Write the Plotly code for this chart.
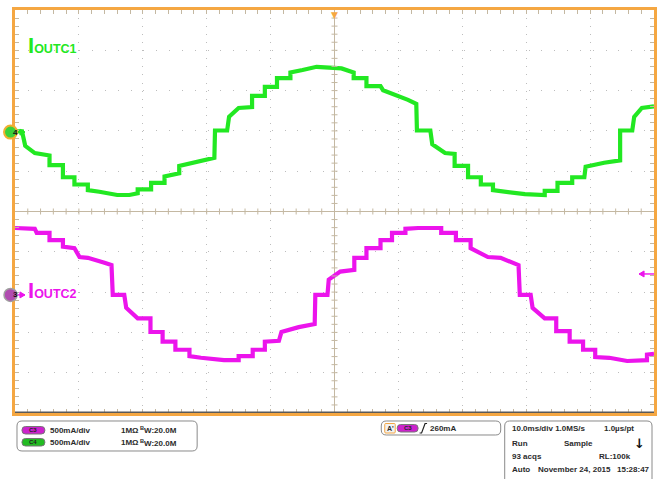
import plotly.graph_objects as go

# ---------------- data (read from the screen) ----------------
# time in ms (10 ms/div, trigger at centre), current in A (500 mA/div)
green_t = [-50.0, -48.9, -48.4, -46.9, -44.6, -44.6, -42.5, -42.5, -40.7, -40.7, -38.6, -38.6, -36.8,
           -34.0, -32.1, -30.8, -30.8, -28.7, -28.7, -26.6, -26.6, -24.3, -24.3, -21.2, -18.8, -18.7,
           -16.8, -16.5, -15.0, -12.9, -12.9, -10.9, -10.9, -9.0, -9.0, -6.9, -6.9, -5.0, -2.8, 1.1,
           3.0, 3.0, 5.0, 5.0, 7.2, 7.6, 9.7, 11.5, 12.8, 12.9, 15.0, 15.3, 17.3, 18.8, 18.8, 20.9,
           20.9, 22.9, 22.9, 24.8, 24.8, 26.8, 29.8, 32.9, 32.9, 34.9, 34.9, 37.2, 37.2, 39.1, 39.3,
           42.2, 44.7, 44.7, 46.6, 46.9, 48.1, 50.0]
green_i = [0.01, 0.01, -0.17, -0.26, -0.29, -0.41, -0.41, -0.56, -0.56, -0.65, -0.65, -0.72, -0.74,
           -0.78, -0.78, -0.76, -0.71, -0.71, -0.63, -0.63, -0.55, -0.51, -0.42, -0.37, -0.32, 0.02,
           0.02, 0.19, 0.30, 0.31, 0.45, 0.45, 0.56, 0.56, 0.67, 0.67, 0.74, 0.77, 0.81, 0.79,
           0.74, 0.67, 0.67, 0.57, 0.57, 0.52, 0.46, 0.40, 0.35, 0.02, 0.02, -0.15, -0.26, -0.27, -0.42, -0.42,
           -0.56, -0.56, -0.65, -0.65, -0.72, -0.74, -0.77, -0.78, -0.73, -0.73, -0.63, -0.63, -0.56, -0.56, -0.43,
           -0.38, -0.35, 0.02, 0.02, 0.19, 0.30, 0.32]

mag_t = [-50.0, -46.9, -46.6, -44.6, -44.6, -42.5, -42.5, -40.7, -39.9, -38.6, -36.0, -34.9, -34.7,
         -32.9, -32.6, -30.8, -28.8, -28.8, -26.9, -26.9, -24.9, -24.9, -22.7, -22.7, -20.9, -17.3,
         -15.0, -15.0, -12.8, -12.8, -10.9, -10.9, -8.7, -8.3, -5.6, -3.1, -3.0, -1.1, -0.9, 0.9,
         3.1, 3.1, 5.0, 5.0, 7.2, 7.2, 9.0, 9.0, 11.1, 11.1, 13.1, 16.7, 16.7, 19.0, 19.0, 21.3,
         21.3, 24.0, 26.0, 28.2, 28.8, 29.0, 30.7, 31.0, 32.9, 34.7, 34.7, 36.8, 36.8, 38.9, 38.9,
         40.8, 40.8, 43.0, 45.8, 48.9, 48.9, 50.0]
mag_i = [0.83, 0.82, 0.77, 0.77, 0.68, 0.68, 0.60, 0.58, 0.47, 0.46, 0.40, 0.37, 0.00,
         0.00, -0.16, -0.29, -0.29, -0.46, -0.46, -0.58, -0.58, -0.68, -0.68, -0.76, -0.78, -0.81,
         -0.81, -0.76, -0.76, -0.68, -0.68, -0.58, -0.57, -0.46, -0.40, -0.36, 0.00, 0.00, 0.19, 0.29,
         0.31, 0.46, 0.46, 0.58, 0.58, 0.68, 0.68, 0.77, 0.77, 0.82, 0.83, 0.83, 0.77, 0.77, 0.68, 0.68,
         0.58, 0.47, 0.46, 0.38, 0.37, 0.00, 0.00, -0.16, -0.29, -0.29, -0.45, -0.45, -0.58, -0.58, -0.68,
         -0.68, -0.77, -0.78, -0.82, -0.81, -0.74, -0.73]

trigger_level = 0.26      # A, on C3
green_offset_div = 6.97   # ground position of C4, divisions from bottom
mag_offset_div = 2.93     # ground position of C3, divisions from bottom
amps_per_div = 0.5

# ---------------- style ----------------
GREEN = "rgb(34,232,34)"
MAG = "rgb(236,20,236)"
ORANGE = "#f5a742"
TICK = "#c4b8a2"
GRID = "#bdbdbd"
TXT = "#2b2b2b"
FONT = "Liberation Sans"

W, H = 663, 479
L, T, PW, PH = 15, 10, 642, 403


def PX(x):
    return (x - L) / PW


def PY(y):
    return (T + PH - y) / PH


fig = go.Figure()
fig.add_trace(go.Scatter(x=green_t, y=green_i, mode="lines", yaxis="y2",
                         line=dict(color=GREEN, width=4.2), hoverinfo="skip"))
fig.add_trace(go.Scatter(x=mag_t, y=mag_i, mode="lines", yaxis="y3",
                         line=dict(color=MAG, width=4.2), hoverinfo="skip"))


def rng(off):
    return [-off * amps_per_div, (10 - off) * amps_per_div]


shapes = []
annotations = []

# centre crosshair ticks
for k in range(-24, 25):
    if k == 0:
        continue
    shapes.append(dict(type="line", xref="x", yref="y", x0=k * 2, x1=k * 2, ysizemode="pixel",
                       yanchor=0, y0=-3, y1=3, line=dict(color=TICK, width=1)))
for k in range(-24, 25):
    if k == 0:
        continue
    shapes.append(dict(type="line", xref="x", yref="y", y0=k * 0.2, y1=k * 0.2, xsizemode="pixel",
                       xanchor=0, x0=-3, x1=3, line=dict(color=TICK, width=1)))

# dark bottom line
shapes.append(dict(type="line", xref="paper", yref="paper", x0=0, x1=1, y0=0.002, y1=0.002,
                   line=dict(color="#5a5a5a", width=1.5)))


def rrect(x0, y0, x1, y1, r):
    pts = [("M", x0 + r, y0), ("L", x1 - r, y0), ("Q", x1, y0, x1, y0 + r), ("L", x1, y1 - r),
           ("Q", x1, y1, x1 - r, y1), ("L", x0 + r, y1), ("Q", x0, y1, x0, y1 - r), ("L", x0, y0 + r),
           ("Q", x0, y0, x0 + r, y0)]
    s = ""
    for p in pts:
        cmd = p[0]
        coords = p[1:]
        parts = []
        for i in range(0, len(coords), 2):
            parts.append(f"{PX(coords[i]):.5f},{PY(coords[i + 1]):.5f}")
        s += cmd + " " + " ".join(parts) + " "
    return s + "Z"


def box(x0, y0, x1, y1, r, line="#8a8a8a", fill="rgba(0,0,0,0)", lw=1):
    shapes.append(dict(type="path", xref="paper", yref="paper", path=rrect(x0, y0, x1, y1, r),
                       line=dict(color=line, width=lw), fillcolor=fill))


def text(x, y, s, size=8, color=TXT, bold=True, anchor="left", family=FONT):
    annotations.append(dict(x=PX(x), y=PY(y), xref="paper", yref="paper", text=(f"<b>{s}</b>" if bold else s),
                            showarrow=False, xanchor=anchor, yanchor="middle",
                            font=dict(family=family, size=size, color=color)))


def arrow(xpx_tail, xpx_tip, yref, yval, color):
    # horizontal arrow drawn in pixels around an axis value
    shapes.append(dict(type="line", xref="paper", yref=yref, x0=PX(xpx_tail), x1=PX(xpx_tip),
                       ysizemode="pixel", yanchor=yval, y0=0, y1=0, line=dict(color=color, width=1.4)))
    d = 1 if xpx_tip > xpx_tail else -1
    shapes.append(dict(type="path", xref="paper", yref=yref, xsizemode="pixel", ysizemode="pixel",
                       xanchor=PX(xpx_tip), yanchor=yval,
                       path=f"M {-5 * d},-3 L 0,0 L {-5 * d},3 Z",
                       line=dict(color=color, width=1), fillcolor=color))


# info boxes
box(17, 421, 198, 451, 5)
box(383, 421, 503, 435, 5)
box(507, 421, 655, 484, 5)

# channel pills
box(22, 426.5, 45, 434, 3.5, line="#777777", fill="#cc22cc")
text(33.5, 430.3, "C3", size=6, color="#222222", anchor="center")
box(22, 438.5, 45, 446, 3.5, line="#777777", fill="#22bb22")
text(33.5, 442.3, "C4", size=6, color="#222222", anchor="center")
text(48, 430.5, "500mA/div")
text(48, 442.5, "500mA/div")
text(119, 430.5, "1MΩ")
text(139, 430.5, "<sup>B</sup>W:20.0M")
text(119, 442.5, "1MΩ")
text(139, 442.5, "<sup>B</sup>W:20.0M")

# trigger box
box(386.5, 423.5, 397, 433, 1, line=ORANGE, fill="#f2f2f2")
text(391.8, 428.3, "A'", size=7, anchor="center")
box(399, 424.5, 420, 432, 3.5, line="#777777", fill="#cc22cc")
text(409.5, 428.3, "C3", size=6, color="#222222", anchor="center")
shapes.append(dict(type="path", xref="paper", yref="paper",
                   path=f"M {PX(421.5)},{PY(433)} L {PX(423.5)},{PY(433)} L {PX(427)},{PY(423.5)} L {PX(429)},{PY(423.5)}",
                   line=dict(color="#222222", width=1.2)))
text(430, 428.5, "260mA")

# time-base box
text(512, 428.5, "10.0ms/div 1.0MS/s")
text(605, 428.5, "1.0µs/pt")
text(512, 443, "Run")
text(565, 443, "Sample")
text(642, 443, "↓", size=13, color="#111111", anchor="center", family="DejaVu Sans")
text(512, 456.5, "93 acqs")
text(600, 456.5, "RL:100k")
text(512, 469.5, "Auto")
text(538, 469.5, "November 24, 2015")
text(618, 469.5, "15:28:47")

# trace labels
annotations.append(dict(x=PX(26), y=PY(45), xref="paper", yref="paper", showarrow=False,
                        xanchor="left", yanchor="middle",
                        text="<b><span style='font-size:22px'>I</span><span style='font-size:12.5px'>OUTC1</span></b>",
                        font=dict(family=FONT, color=GREEN, size=12)))
annotations.append(dict(x=PX(26), y=PY(290), xref="paper", yref="paper", showarrow=False,
                        xanchor="left", yanchor="middle",
                        text="<b><span style='font-size:22px'>I</span><span style='font-size:12.5px'>OUTC2</span></b>",
                        font=dict(family=FONT, color=MAG, size=12)))

# ground markers with arrows
arrow(14, 25, "y2", 0, GREEN)
arrow(14, 25, "y3", 0, MAG)
shapes.append(dict(type="circle", xref="paper", yref="y2", xsizemode="pixel", ysizemode="pixel",
                   xanchor=PX(10.5), yanchor=0, x0=-6.5, x1=6.5, y0=-6.5, y1=6.5,
                   fillcolor="#3ad13a", line=dict(color="#f0b030", width=2)))
shapes.append(dict(type="circle", xref="paper", yref="y3", xsizemode="pixel", ysizemode="pixel",
                   xanchor=PX(10.5), yanchor=0, x0=-6.5, x1=6.5, y0=-6.5, y1=6.5,
                   fillcolor="#b04cb0", line=dict(color="#a0a0a0", width=1.5)))
annotations.append(dict(x=PX(10.5), y=0, xref="paper", yref="y2", text="<b>4</b>", showarrow=False,
                        font=dict(family=FONT, size=8, color="#111111")))
annotations.append(dict(x=PX(10.5), y=0, xref="paper", yref="y3", text="<b>3</b>", showarrow=False,
                        font=dict(family=FONT, size=8, color="#111111")))

# trigger level arrow (right) and trigger position marker (top)
arrow(657, 642, "y3", trigger_level, MAG)
annotations.append(dict(x=0, y=1, xref="x", yref="paper", text="▼", showarrow=False, yanchor="top",
                        yshift=2, font=dict(family="DejaVu Sans", size=9, color=ORANGE)))

axis_common = dict(showticklabels=False, showgrid=True, gridcolor=GRID, gridwidth=1,
                   zeroline=True, zerolinecolor=TICK, zerolinewidth=1,
                   ticks="inside", ticklen=4, tickcolor=TICK, tickwidth=1,
                   showline=True, linecolor=ORANGE, linewidth=3, mirror="ticks")

fig.update_layout(
    width=W, height=H,
    margin=dict(l=L, r=W - L - PW, t=T, b=H - T - PH, pad=0),
    paper_bgcolor="white", plot_bgcolor="white",
    showlegend=False,
    xaxis=dict(range=[-50, 50], dtick=10, tick0=0, griddash=f"1px,{PH / 50 - 1:.3f}px",
               minor=dict(dtick=2, tick0=0, ticks="inside", ticklen=4, tickcolor=TICK, showgrid=False),
               **axis_common),
    yaxis=dict(range=[-5, 5], dtick=1, tick0=0, griddash=f"1px,{PW / 50 - 1:.3f}px",
               minor=dict(dtick=0.2, tick0=0, ticks="inside", ticklen=4, tickcolor=TICK, showgrid=False),
               **axis_common),
    yaxis2=dict(overlaying="y", range=rng(green_offset_div), visible=False),
    yaxis3=dict(overlaying="y", range=rng(mag_offset_div), visible=False),
    shapes=shapes,
    annotations=annotations,
)

fig.write_html("out.html", config={"displayModeBar": False},
               post_script="document.body.style.margin='0';document.body.style.padding='0';"
                           "document.body.style.overflow='hidden';")
